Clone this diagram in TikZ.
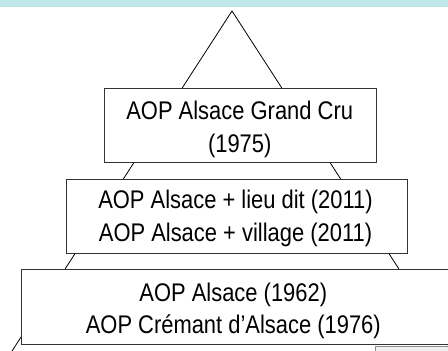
\documentclass[tikz,border=0pt]{standalone}
\usepackage{fontspec}
\setmainfont{Liberation Sans}
\newfontfamily\narrowfont[FakeStretch=0.86]{Liberation Sans}
\definecolor{band}{HTML}{C0E8EA}
\begin{document}
\begin{tikzpicture}[x=1pt,y=-1pt,
  tier/.style={draw=black!80, line width=0.9pt, fill=white, inner sep=0pt},
  lbl/.style={font=\narrowfont\fontsize{25.5}{30}\selectfont, anchor=base, inner sep=0pt},
  edge/.style={line width=0.8pt, draw=black}]
\useasboundingbox (0,0) rectangle (448,351);
\clip (0,0) rectangle (448,351);
\fill[band] (0,0) rectangle (448,7);
% pyramid outline
\coordinate (apex) at (232,11);
\coordinate (bl) at (-26.8,411);
\coordinate (br) at (490.8,411);
\draw[edge] (bl) -- (apex) -- (br);
% tiers
\node[tier, minimum width=272pt, minimum height=74pt, anchor=north west] (gc) at (104,88) {};
\node[lbl] (gc1) at (239.7,119) {AOP Alsace Grand Cru};
\node[lbl] (gc2) at (239.7,152) {(1975)};
\node[tier, minimum width=341pt, minimum height=74pt, anchor=north west] (mid) at (66,179) {};
\node[lbl] (mid1) at (235.5,208.3) {AOP Alsace + lieu dit (2011)};
\node[lbl] (mid2) at (235.5,241.7) {AOP Alsace + village (2011)};
\node[tier, minimum width=440pt, minimum height=75pt, anchor=north west] (base) at (21,269) {};
\node[lbl] (base1) at (233.3,301.5) {AOP Alsace (1962)};
\node[lbl] (base2) at (233.3,333.5) {AOP Crémant d’Alsace (1976)};
% grey box bottom right
\filldraw[fill=black!6, draw=black!45, line width=0.6pt] (375,346) rectangle (470,370);
\end{tikzpicture}
\end{document}
